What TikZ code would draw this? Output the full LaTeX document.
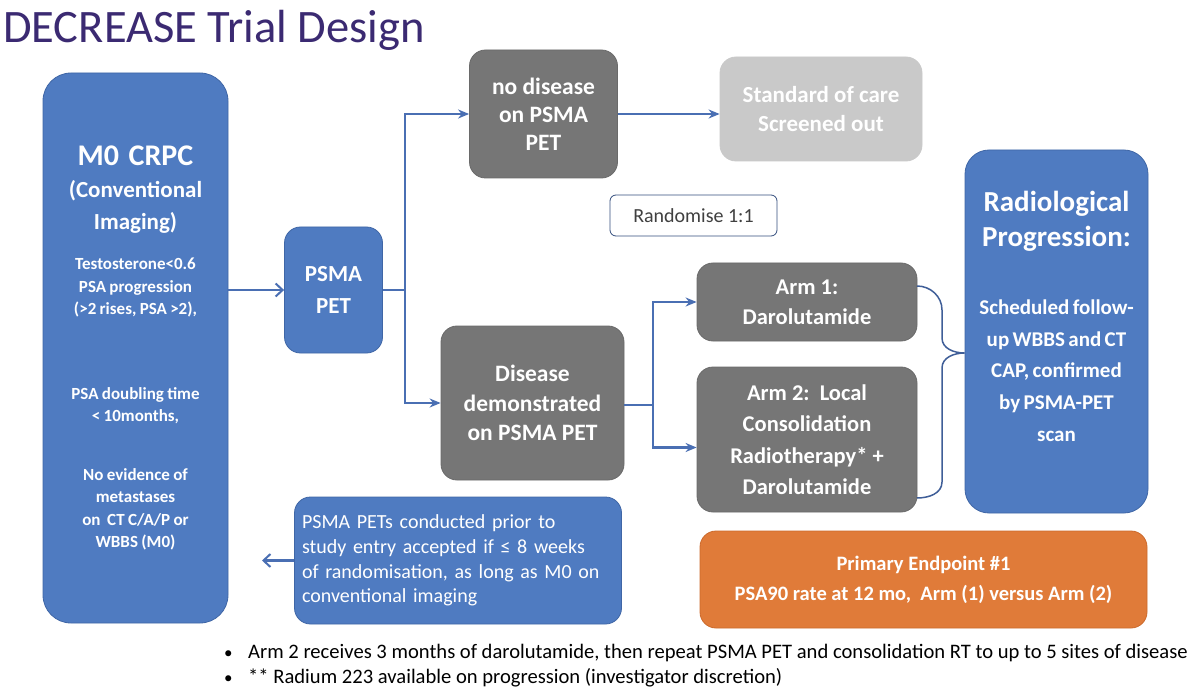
\documentclass[tikz,border=0pt]{standalone}
\usepackage{fontspec}
\setmainfont{Carlito}
\usetikzlibrary{arrows.meta,positioning,calc}
\definecolor{ctBlue}{HTML}{4F7BC1}
\definecolor{ctBlueD}{HTML}{3F66A6}
\definecolor{ctGrey}{HTML}{767676}
\definecolor{ctGreyD}{HTML}{6A6A6A}
\definecolor{ctLight}{HTML}{C9C9C9}
\definecolor{ctOrange}{HTML}{E07B39}
\definecolor{ctOrangeD}{HTML}{CC6A2C}
\definecolor{ctLine}{HTML}{4A6FB3}
\definecolor{ctTitle}{HTML}{3B2A72}
\newcommand{\fsz}[2]{\fontsize{#1}{#2}\selectfont}

\begin{document}
\begin{tikzpicture}[x=1pt,y=-1pt,
  box/.style={rounded corners=16pt,inner sep=0pt,align=center,text=white,line width=0.8pt},
  blueBox/.style={box,fill=ctBlue,draw=ctBlueD},
  greyBox/.style={box,fill=ctGrey,draw=ctGreyD},
  flow/.style={draw=ctLine,line width=2.2pt,-{Stealth[length=11pt,width=9pt]}},
  flowBarb/.style={draw=ctLine,line width=2.2pt,-{Straight Barb[length=7pt,width=13pt,line width=2pt]}},
  branch/.style={draw=ctLine,line width=2.2pt}]
  \useasboundingbox (0,0) rectangle (1200,687);
  \fill[white] (0,0) rectangle (1200,687);

  % title
  \node[anchor=base west,inner sep=0pt,text=ctTitle,font=\fsz{46.5}{50}] (title) at (3,43) {DECREASE Trial Design};

  % left column
  \node[blueBox,rounded corners=28pt,minimum width=185pt,minimum height=550pt,text width=180pt] (crpc) at (135.5,348) {%
    {\fsz{30}{31}\bfseries M0\hspace{0.32em}CRPC\par}
    {\fsz{23}{32}\bfseries (Conventional\par Imaging)\par}
    \vspace{18pt}
    {\fsz{17}{22.5}\bfseries Testosterone<0.6\par PSA progression\par (>2 rises, PSA >2),\par}
    \vspace{62pt}
    {\fsz{17}{22.5}\bfseries PSA doubling time\par < 10months,\par}
    \vspace{36pt}
    {\fsz{17}{22.5}\bfseries No evidence of\par metastases\par on\ \ CT C/A/P or\par WBBS (M0)\par}};
  \node[blueBox,minimum width=98pt,minimum height=126pt,font=\fsz{23}{32}\bfseries] (psma) at (333.5,290) {PSMA\\PET};

  % screening outcome
  \node[greyBox,minimum width=148pt,minimum height=128pt,font=\fsz{23.5}{28}\bfseries] (nodis) at (543.5,114) {no disease\\on PSMA\\PET};
  \node[box,fill=ctLight,draw=ctLight,minimum width=202pt,minimum height=104pt,font=\fsz{23}{29}\bfseries] (soc) at (821,109) {Standard of care\\Screened out};
  \node[draw=ctLine!70!black,rounded corners=6pt,line width=0.8pt,minimum width=167pt,minimum height=41pt,inner sep=0pt,text=black!75,font=\fsz{20}{22}] (rand) at (693.5,215.5) {Randomise 1:1};
  \node[greyBox,minimum width=183pt,minimum height=154pt,font=\fsz{23.5}{29.5}\bfseries] (dis) at (532.5,403) {Disease\\demonstrated\\on PSMA PET};

  % arms
  \node[greyBox,minimum width=220pt,minimum height=78pt,font=\fsz{22.5}{30}\bfseries] (arm1) at (807,302) {Arm 1:\\Darolutamide};
  \node[greyBox,minimum width=220pt,minimum height=145pt,font=\fsz{22.5}{31.5}\bfseries] (arm2) at (807,439.5) {Arm 2:\ \ Local\\Consolidation\\Radiotherapy* +\\Darolutamide};
  \node[blueBox,rounded corners=24pt,minimum width=183pt,minimum height=363pt,text width=180pt] (radio) at (1056.5,331.5) {%
    {\fsz{29}{35}\bfseries Radiological\par Progression:\par}
    \vspace{36pt}
    {\fsz{21}{31.8}\bfseries Scheduled follow-\par up WBBS and CT\par CAP, confirmed\par by PSMA-PET\par scan\par}
    \vspace{30pt}};

  % bottom boxes
  \node[blueBox,minimum width=327pt,minimum height=127pt,text width=312pt,align=left,font=\fsz{20}{24.6}] (prior) at (458,560.5) {PSMA PETs conducted prior to\\study entry accepted if ≤ 8 weeks\\of randomisation, as long as M0 on\\conventional imaging};
  \node[box,fill=ctOrange,draw=ctOrangeD,minimum width=447pt,minimum height=97pt,font=\fsz{20.5}{30}\bfseries] (endp) at (923.5,579.5) {Primary Endpoint \#1\\PSA90 rate at 12 mo,\ \ Arm (1) versus Arm (2)};

  % notes
  \node[anchor=base west,inner sep=0pt,font=\fsz{17}{25}] (dotA) at (224,658) {•};
  \node[anchor=base west,inner sep=0pt,font=\fsz{20.6}{25}] (noteA) at (248,658) {Arm 2 receives 3 months of darolutamide, then repeat PSMA PET and consolidation RT to up to 5 sites of disease};
  \node[anchor=base west,inner sep=0pt,font=\fsz{17}{25}] (dotB) at (224,683) {•};
  \node[anchor=base west,inner sep=0pt,font=\fsz{20.6}{25}] (noteB) at (248,683) {** Radium 223 available on progression (investigator discretion)};

  % connectors
  \coordinate (jA) at (405,290);
  \coordinate (jB) at (653,405);
  \coordinate (priorEnd) at (262,560.5);
  \draw[flowBarb] (crpc.east |- psma.west) -- (psma.west);
  \draw[branch] (psma.east) -- (jA);
  \draw[flow] (jA) |- (nodis.west);
  \draw[flow] (jA) |- (dis.west);
  \draw[flow] (nodis.east) -- (soc.west |- nodis.east);
  \draw[branch] (dis.east |- jB) -- (jB);
  \draw[flow] (jB) |- (arm1.west);
  \draw[flow] (jB) |- ($(arm2.west)+(0,8)$);
  \draw[flowBarb] (prior.west) -- (priorEnd);

  % brace
  \coordinate (bTop) at (917,286);
  \coordinate (bTip) at (radio.west |- 0,353);
  \coordinate (bBot) at (917,498);
  \draw[ctLine!85!black,line width=1.5pt] (bTop) to[out=0,in=90] (942,310) -- (942,338)
    to[out=-90,in=180] (bTip) to[out=180,in=90] (942,368) -- (942,482) to[out=-90,in=0] (bBot);
\end{tikzpicture}
\end{document}
